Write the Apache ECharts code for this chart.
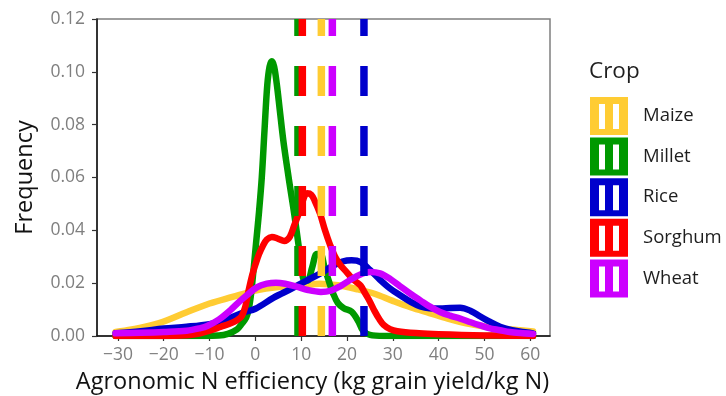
<!DOCTYPE html>
<html>
<head>
<meta charset="utf-8">
<script src="https://cdn.jsdelivr.net/npm/echarts@6/dist/echarts.min.js"></script>
<style>
  html, body { margin: 0; padding: 0; background: #fff; }
  #chart { width: 726px; height: 396px; }
</style>
</head>
<body>
<div id="chart"></div>
<script>
const crops = ["Maize", "Millet", "Rice", "Sorghum", "Wheat"];
const cropColors = ["#FFCC33", "#009900", "#0000CC", "#FF0000", "#CC00FF"];

// density curves, [efficiency, frequency]
const maize = [
  [-30.5, 0.0015], [-27, 0.0025], [-24, 0.0035], [-20, 0.0055], [-15, 0.009],
  [-10, 0.0123], [-5, 0.0148], [0, 0.0172], [5, 0.0185], [10, 0.019],
  [14, 0.0198], [18, 0.0192], [22, 0.0178], [26, 0.016], [30, 0.0133],
  [34, 0.0108], [38, 0.0087], [42, 0.0066], [46, 0.0048], [50, 0.0036],
  [54, 0.0028], [57, 0.0023], [60.6, 0.0017]
];
const millet = [
  [-30.5, 0], [-15, 0], [-8, 0.0002], [-6, 0.0008], [-4, 0.0025], [-3, 0.0045],
  [-2, 0.007], [-1.5, 0.0097], [-1, 0.015], [-0.4, 0.025], [0.2, 0.036],
  [0.8, 0.047], [1.4, 0.06], [2, 0.078], [2.6, 0.095], [3.1, 0.102], [3.6, 0.104],
  [4.1, 0.102], [4.7, 0.095], [5.3, 0.086], [6.1, 0.074], [7, 0.063], [7.7, 0.055],
  [8.5, 0.046], [9.3, 0.036], [10, 0.027], [10.7, 0.021], [11.4, 0.021],
  [12.4, 0.026], [13.4, 0.031], [14.2, 0.031], [15.1, 0.026], [16, 0.021],
  [17, 0.016], [18, 0.0125], [19.3, 0.0105], [21, 0.0092], [22.5, 0.0055],
  [23.5, 0.002], [25, 0.0004], [28, 0], [60.6, 0]
];
const rice = [
  [-30.5, 0.001], [-25, 0.0018], [-20, 0.0028], [-15, 0.0035], [-10, 0.0045],
  [-7, 0.0058], [-5, 0.0072], [-2.5, 0.009], [0, 0.0103], [4, 0.0145], [8, 0.018],
  [11.2, 0.021], [14, 0.0235], [17, 0.0266], [19, 0.0282], [21, 0.0287],
  [23, 0.028], [25, 0.025], [27.2, 0.0213], [29.4, 0.018], [31.6, 0.0154],
  [34, 0.0128], [36, 0.0112], [38, 0.0105], [40.3, 0.0104], [42.5, 0.0106],
  [44.7, 0.0107], [47, 0.0095], [49.1, 0.0074], [51, 0.0055], [53.4, 0.0035],
  [56, 0.0022], [59.3, 0.0013], [60.6, 0.001]
];
const sorghum = [
  [-30.5, 0], [-20, 0], [-15, 0.0003], [-12, 0.001], [-10, 0.002], [-7.5, 0.0035],
  [-5.5, 0.0047], [-4, 0.006], [-3, 0.0075], [-2.2, 0.011], [-1.5, 0.017],
  [-0.7, 0.023], [0, 0.027], [0.8, 0.031], [1.6, 0.034], [2.5, 0.0365],
  [3.6, 0.0375], [5, 0.0368], [6.3, 0.036], [7.5, 0.0375], [8.5, 0.042],
  [9.4, 0.046], [10.3, 0.051], [11.3, 0.054], [12.2, 0.0535], [13, 0.051],
  [14.1, 0.0464], [15.2, 0.04], [16.3, 0.0345], [17.4, 0.03], [18.5, 0.027],
  [20, 0.024], [21, 0.022], [22, 0.0205], [23, 0.019], [24, 0.016], [25, 0.013],
  [26, 0.0095], [27, 0.0065], [28, 0.0042], [29.4, 0.0026], [31, 0.0018],
  [35, 0.0011], [40, 0.0007], [45, 0.0004], [50, 0.0002], [55, 0.0001], [60.6, 0]
];
const wheat = [
  [-30.5, 0.001], [-25, 0.0012], [-20, 0.0015], [-15, 0.002], [-12, 0.003],
  [-10.5, 0.0038], [-8, 0.0062], [-5.5, 0.0097], [-3.5, 0.013], [-1.8, 0.0155],
  [0.4, 0.0185], [2.5, 0.0198], [4.5, 0.0202], [6.5, 0.0198], [9, 0.0187],
  [11.5, 0.0174], [14.3, 0.0167], [16.5, 0.0172], [18.5, 0.0188], [20.5, 0.021],
  [22.8, 0.0232], [25, 0.0242], [27.2, 0.0237], [29.5, 0.0215], [31.6, 0.0188],
  [34, 0.0158], [36, 0.0135], [38, 0.0112], [40.3, 0.0091], [42.5, 0.0077],
  [44.7, 0.0066], [47, 0.0052], [49.1, 0.004], [51, 0.003], [53.4, 0.0022],
  [55.5, 0.0015], [57.8, 0.0011], [60.6, 0.0008]
];
const cropMeans = [14.4, 9.3, 23.7, 10.25, 16.8];

const xTicks = [-30, -20, -10, 0, 10, 20, 30, 40, 50, 60];

const curves = [maize, millet, rice, sorghum, wheat];
const font = "'Open Sans', sans-serif";
// legend key: filled box with two open slots (dashed line over the fill)
const keyIcon = "path://M0 0H38V38H0Z M9 7V32H15V7Z M23 7V32H29V7Z";

const chart = echarts.init(document.getElementById("chart"));

const densitySeries = crops.map((name, i) => ({
  name: name,
  type: "line",
  data: curves[i],
  smooth: 0.35,
  showSymbol: false,
  z: 2,
  color: cropColors[i],
  lineStyle: { width: 6.5, color: cropColors[i], cap: "round", join: "round" },
  emphasis: { disabled: true },
}));

const meanSeries = crops.map((name, i) => ({
  name: name,
  type: "line",
  data: [[cropMeans[i], 0], [cropMeans[i], 0.12]],
  showSymbol: false,
  z: 3,
  color: cropColors[i],
  lineStyle: { width: 7.5, color: cropColors[i], type: [30, 30], cap: "butt" },
  emphasis: { disabled: true },
}));

chart.setOption({
  animation: false,
  textStyle: { fontFamily: font },
  grid: {
    left: 97, right: 176, top: 19, bottom: 60,
    show: true, borderColor: "#7f7f7f", borderWidth: 1.5,
    outerBoundsMode: "none",
  },
  legend: {
    data: crops,
    orient: "vertical",
    left: 590,
    top: 97,
    padding: 0,
    itemWidth: 38,
    itemHeight: 38,
    itemGap: 2.6,
    icon: keyIcon,
    itemStyle: { borderWidth: 0 },
    selectedMode: false,
    textStyle: { fontSize: 18.5, color: "#1e1e1e", fontFamily: font, padding: [0, 0, 0, 10] },
  },
  graphic: [
    {
      type: "text",
      left: 589,
      top: 60,
      style: { text: "Crop", fontSize: 22.5, fontFamily: font, fill: "#1e1e1e" },
    },
  ],
  xAxis: {
    type: "value",
    min: -34.56,
    max: 64.3,
    name: "Agronomic N efficiency (kg grain yield/kg N)",
    nameLocation: "middle",
    nameGap: 34,
    nameTextStyle: { fontSize: 23.5, color: "#111", fontFamily: font, padding: [0, 22, 0, 0] },
    axisLine: { show: true, onZero: false, lineStyle: { color: "#111", width: 1.5 } },
    axisTick: { show: true, customValues: xTicks, length: 5, lineStyle: { color: "#333", width: 1.2 } },
    axisLabel: {
      customValues: xTicks,
      fontSize: 17.5,
      color: "#7f7f7f",
      margin: 10,
      formatter: (v) => (v < 0 ? "\u2212" + Math.abs(v) : String(v)),
    },
    splitLine: { show: false },
  },
  yAxis: {
    type: "value",
    min: 0,
    max: 0.12,
    interval: 0.02,
    name: "Frequency",
    nameLocation: "middle",
    nameGap: 60,
    nameTextStyle: { fontSize: 23.5, color: "#111", fontFamily: font },
    axisLine: { show: true, onZero: false, lineStyle: { color: "#111", width: 1.5 } },
    axisTick: { show: true, length: 5, lineStyle: { color: "#333", width: 1.2 } },
    axisLabel: {
      fontSize: 17.5,
      color: "#7f7f7f",
      margin: 12,
      formatter: (v) => v.toFixed(2),
    },
    splitLine: { show: false },
  },
  series: densitySeries.concat(meanSeries),
});
</script>
</body>
</html>
